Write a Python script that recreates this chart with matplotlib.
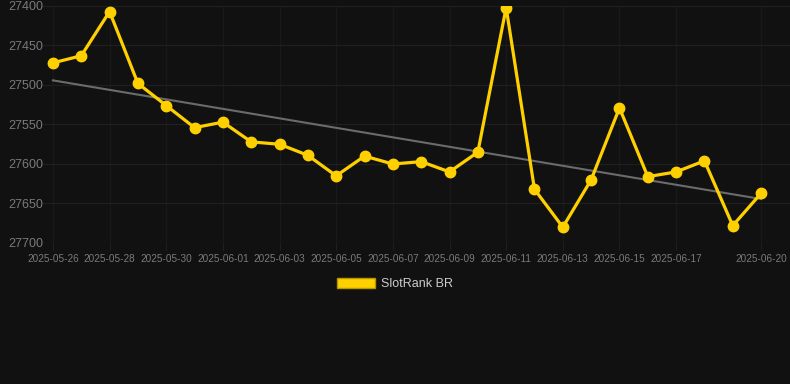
import numpy as np
import pandas as pd
import matplotlib
matplotlib.use("Agg")
import matplotlib.pyplot as plt
from matplotlib.patches import Patch

# dados
datas = pd.date_range("2025-05-26", "2025-06-20", freq="D")
posicoes = [27472, 27463, 27407, 27498, 27526, 27554, 27547, 27572, 27575, 27589,
            27615, 27590, 27600, 27597, 27610, 27585, 27402, 27632, 27680, 27620,
            27529, 27616, 27610, 27596, 27678, 27637]
rotulos_x = ["2025-05-26", "2025-05-28", "2025-05-30", "2025-06-01", "2025-06-03",
             "2025-06-05", "2025-06-07", "2025-06-09", "2025-06-11", "2025-06-13",
             "2025-06-15", "2025-06-17", "2025-06-20"]
ticks_y = [27400, 27450, 27500, 27550, 27600, 27650, 27700]
nome_serie = "SlotRank BR"

fundo = "#111111"
amarelo = "#FFD000"
cinza_texto = "#7a7a7a"

plt.rcParams["font.family"] = ["Liberation Sans", "DejaVu Sans"]

fig = plt.figure(figsize=(7.9, 3.84), dpi=100, facecolor=fundo)
ax = fig.add_axes([43 / 790, 1 - 243 / 384, 747 / 790, 237 / 384], facecolor=fundo)

x = np.arange(len(datas))
# linha de tendência (regressão linear)
coef = np.polyfit(x, posicoes, 1)
ax.plot([x[0], x[-1]], np.polyval(coef, [x[0], x[-1]]), color="#6b6b6b", lw=1.5, zorder=2)

ax.plot(x, posicoes, color=amarelo, lw=2.3, marker="o", markersize=7.5, zorder=3)

ax.set_ylim(27700, 27400)
ax.set_xlim(-0.35, 26.02)
ax.set_yticks(ticks_y)
ax.set_yticklabels([str(t) for t in ticks_y])

datas_str = [d.strftime("%Y-%m-%d") for d in datas]
ax.set_xticks([datas_str.index(r) for r in rotulos_x])
ax.set_xticklabels(rotulos_x)

ax.grid(True, axis="y", color="#1f1f1f", lw=0.9)
ax.grid(True, axis="x", color="#191919", lw=0.9)
for s in ax.spines.values():
    s.set_visible(False)
ax.tick_params(axis="y", length=0, pad=0, labelsize=9, labelcolor=cinza_texto)
ax.tick_params(axis="x", length=5, color="#1f1f1f", pad=3, labelsize=7.2, labelcolor=cinza_texto)

fig.legend(handles=[Patch(facecolor=amarelo, edgecolor="#b89600", label=nome_serie)],
           loc="center", bbox_to_anchor=(0.5, 1 - 284 / 384), frameon=False,
           handlelength=3.0, handleheight=0.8, handletextpad=0.5,
           fontsize=9, labelcolor="#cccccc")

fig.savefig("out.png", facecolor=fundo)
